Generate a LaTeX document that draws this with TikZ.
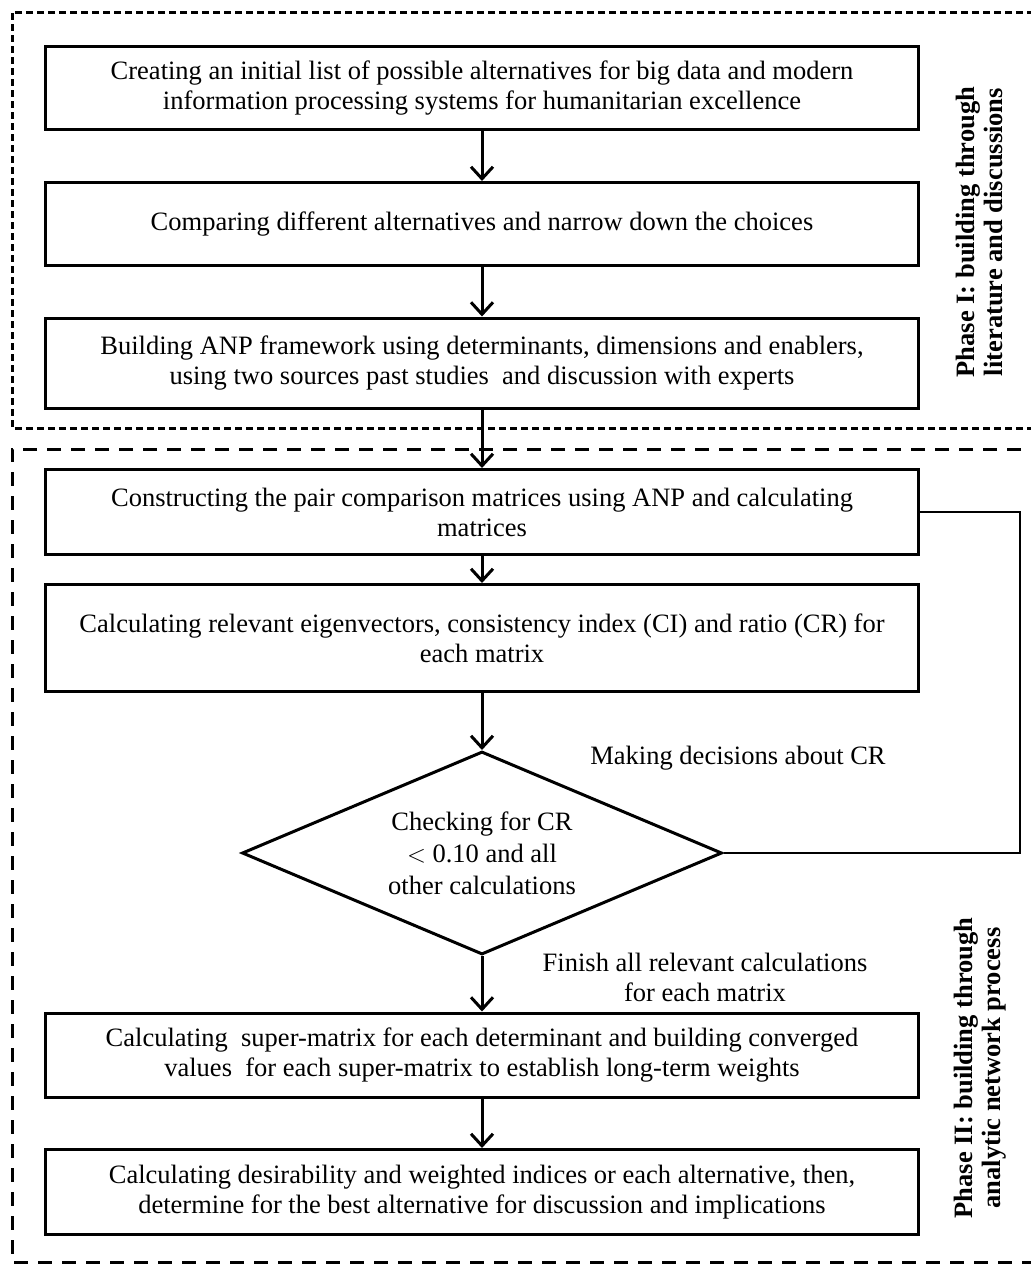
\documentclass[tikz,border=0pt]{standalone}
\usepackage{fontspec}
\setmainfont{Liberation Serif}
\usetikzlibrary{shapes.geometric,arrows.meta}

\tikzset{
  stepbox/.style={draw,line width=3pt,minimum width=873pt,align=center,inner sep=0pt},
  flow/.style={line width=3pt,-{Straight Barb[length=12pt,width=22pt]}},
  phase/.style={rotate=90,align=center,font=\fontsize{26.5}{28}\selectfont\bfseries}
}

\begin{document}
\begin{tikzpicture}[x=1pt,y=-1pt,font=\fontsize{26.5}{30}\selectfont]
\useasboundingbox (0,0) rectangle (1031,1267);

% phase frames
\draw[line width=3pt,dash pattern=on 7pt off 4pt] (1045,12) -| (12,428) -- (1045,428);
\draw[line width=3pt,dash pattern=on 14pt off 10pt] (1045,449) -| (12,1262) -- (1045,1262);

% phase I
\node[stepbox,minimum height=83pt] (list) at (482,88) {Creating an initial list of possible alternatives for big data and modern\\information processing systems for humanitarian excellence};
\node[stepbox,minimum height=83pt] (compare) at (482,224) {Comparing different alternatives and narrow down the choices};
\node[stepbox,minimum height=90pt] (anp) at (482,363) {Building ANP framework using determinants, dimensions and enablers,\\using two sources past studies~ and discussion with experts};

% phase II
\node[stepbox,minimum height=85pt] (pairs) at (482,512) {Constructing the pair comparison matrices using ANP and calculating\\matrices};
\node[stepbox,minimum height=107pt] (eigen) at (482,638) {Calculating relevant eigenvectors, consistency index (CI) and ratio (CR) for\\each matrix};
\node[draw,diamond,aspect=2.36,line width=3pt,minimum width=480pt,minimum height=203pt,inner sep=0pt,align=center,font=\fontsize{26.5}{32}\selectfont] (check) at (482,853) {Checking for CR\\$<$ 0.10 and all\\other calculations};
\node[stepbox,minimum height=84pt] (super) at (482,1055) {Calculating~ super-matrix for each determinant and building converged\\values~ for each super-matrix to establish long-term weights};
\node[stepbox,minimum height=85pt] (best) at (482,1192) {Calculating desirability and weighted indices or each alternative, then,\\determine for the best alternative for discussion and implications};

\node (decide) at (738,758) {Making decisions about CR};
\node[align=center] (finish) at (705,977) {Finish all relevant calculations\\for each matrix};

\node[phase] (phaseI) at (979,232) {Phase I: building through\\literature and discussions};
\node[phase] (phaseII) at (980,1068) {Phase II: building through\\analytic network process};

% connectors
\draw[flow] (list) -- (compare);
\draw[flow] (compare) -- (anp);
\draw[flow] (anp) -- (pairs);
\draw[flow] (pairs) -- (eigen);
\draw[flow] (eigen) -- (check);
\draw[flow] (check) -- (super);
\draw[flow] (super) -- (best);

\coordinate (loop) at (1020,512);
\draw[line width=2.5pt] (pairs.east) -- (loop) |- (check.east);
\end{tikzpicture}
\end{document}
